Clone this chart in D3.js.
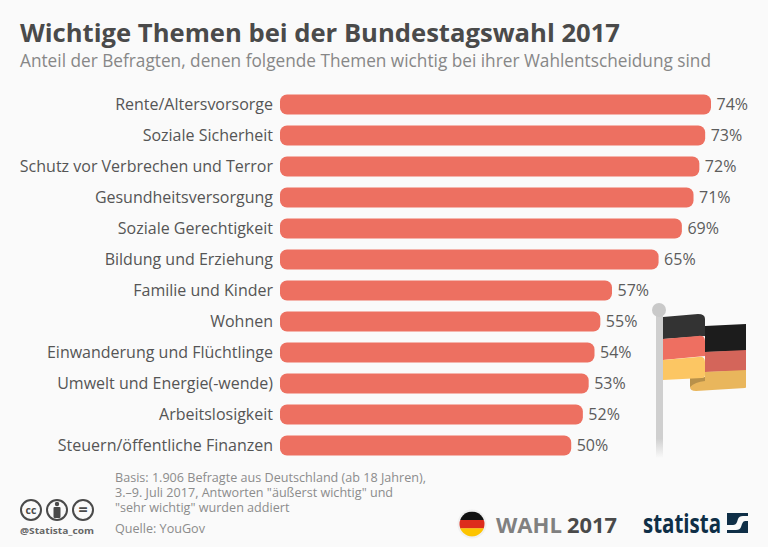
<!DOCTYPE html>
<html lang="de"><head><meta charset="utf-8">
<style>html,body{margin:0;padding:0;background:#fafafa}svg{display:block}text{font-family:"Open Sans",sans-serif}</style>
<script src="https://cdn.jsdelivr.net/npm/d3@7/dist/d3.min.js"></script></head>
<body><svg id="c" width="768" height="547"></svg>
<script>
const categories=["Rente/Altersvorsorge","Soziale Sicherheit","Schutz vor Verbrechen und Terror","Gesundheitsversorgung","Soziale Gerechtigkeit","Bildung und Erziehung","Familie und Kinder","Wohnen","Einwanderung und Flüchtlinge","Umwelt und Energie(-wende)","Arbeitslosigkeit","Steuern/öffentliche Finanzen"];
const values=[74,73,72,71,69,65,57,55,54,53,52,50];
const noteLines=["Basis: 1.906 Befragte aus Deutschland (ab 18 Jahren),","3.–9. Juli 2017, Antworten \"äußerst wichtig\" und","\"sehr wichtig\" wurden addiert"];

const svg=d3.select("#c");
svg.append("rect").attr("width",768).attr("height",547).attr("fill","#fafafa");
const x=d3.scaleLinear().domain([0,74]).range([280,711]);
const y=d3.scaleBand().domain(categories).range([89,461]).paddingInner(0.35).paddingOuter(0.175);
const txt=(tx,ty,s,size,fill,opt={})=>svg.append("text").attr("x",tx).attr("y",ty).text(s)
  .attr("font-size",size).attr("fill",fill).attr("font-weight",opt.w||400).attr("text-anchor",opt.a||"start")
  .attr("font-family",opt.f||null).attr("textLength",opt.l||null).attr("lengthAdjust",opt.l?"spacingAndGlyphs":null);

txt(20,42,"Wichtige Themen bei der Bundestagswahl 2017",25.5,"#4a4a4a",{w:700,l:600});
txt(20,67,"Anteil der Befragten, denen folgende Themen wichtig bei ihrer Wahlentscheidung sind",17.5,"#878787",{l:691});

svg.selectAll("rect.bar").data(categories).join("rect").attr("class","bar")
  .attr("x",x(0)).attr("y",d=>y(d)).attr("height",y.bandwidth())
  .attr("width",(d,i)=>x(values[i])-x(0)).attr("rx",7).attr("fill","#ed7061");
svg.selectAll("text.cat").data(categories).join("text").attr("class","cat")
  .attr("x",273).attr("y",d=>y(d)+y.bandwidth()/2+5).attr("text-anchor","end")
  .attr("font-size",16).attr("fill","#555").text(d=>d);
svg.selectAll("text.val").data(categories).join("text").attr("class","val")
  .attr("x",(d,i)=>x(values[i])+5.5).attr("y",d=>y(d)+y.bandwidth()/2+5.5)
  .attr("font-size",16).attr("fill","#5c5c5c").text((d,i)=>values[i]+"%");

// flag
const defs=svg.append("defs");
const g=defs.append("linearGradient").attr("id","pole").attr("x1",0).attr("x2",0).attr("y1",0).attr("y2",1);
g.append("stop").attr("offset",0.87).attr("stop-color","#cfcfcf");
g.append("stop").attr("offset",1).attr("stop-color","#cfcfcf").attr("stop-opacity",0);
svg.append("rect").attr("x",656).attr("y",308).attr("width",7).attr("height",150).attr("fill","url(#pole)");
svg.append("circle").attr("cx",659).attr("cy",310).attr("r",7).attr("fill","#c9c9c9");
const P=(d,f)=>svg.append("path").attr("d",d).attr("fill",f);
P("M705 326L746 324L746 351L705 352Z","#1c1c1c");
P("M705 352L746 350L746 371L705 372Z","#d4655a");
P("M705 372L746 370L746 387Q746 388 745 388L696 391Q690 391 690 387L690 378L705 378Z","#e9b65c");
P("M690 378L705 377L705 381Q695 382 690 387Z","#b8914a");
P("M663 317L698 314Q705 314 705 319L705 336L663 339Z","#333");
P("M663 339L698 336Q705 335 705 341L705 356L663 360Z","#ee6f61");
P("M663 360L698 357Q705 356 705 362L705 375Q705 378 702 378L663 380Z","#fcc663");

// footer
const note=svg.append("text").attr("font-size",12.6).attr("fill","#8c8c8c");
note.selectAll("tspan").data(noteLines).join("tspan").attr("x",115).attr("y",(d,i)=>482+i*15).text(d=>d);
txt(115,533,"Quelle: YouGov",12.6,"#8c8c8c");
const cc=[[31,"cc"],[57,""],[83,"="]];
cc.forEach(([cx,s])=>{
  svg.append("circle").attr("cx",cx).attr("cy",510).attr("r",10).attr("fill","none").attr("stroke","#4a4a4a").attr("stroke-width",2);
  if(s) txt(cx,s==="="?515:513.5,s,s==="="?16:10.5,"#4a4a4a",{w:700,a:"middle"});
});
svg.append("circle").attr("cx",57).attr("cy",504).attr("r",2.2).attr("fill","#4a4a4a");
svg.append("rect").attr("x",53.5).attr("y",507).attr("width",7).attr("height",11).attr("rx",1).attr("fill","#4a4a4a");
txt(20,534,"@Statista_com",9.5,"#666",{w:700,l:74});

// WAHL badge
const clip=defs.append("clipPath").attr("id","round");
clip.append("circle").attr("cx",472).attr("cy",524).attr("r",12.5);
svg.append("circle").attr("cx",472).attr("cy",524).attr("r",14.5).attr("fill","#f0f0f0");
[["#111",511.5],["#dd2c1c",520],["#fdc400",528.3]].forEach(([f,ty])=>
  svg.append("rect").attr("x",459).attr("y",ty).attr("width",26).attr("height",8.5).attr("fill",f).attr("clip-path","url(#round)"));
txt(496,533,"WAHL",22,"#808080",{w:700,l:66});
txt(567,533,"2017",22,"#4a4a4a",{w:700,l:50});

// statista logo
txt(643,533,"statista",27,"#0f2f47",{w:700,l:78,f:"'Roboto Condensed','Liberation Sans Narrow',Roboto,sans-serif"});
svg.append("rect").attr("x",727).attr("y",513).attr("width",21).attr("height",20).attr("fill","#0f2f47");
svg.append("path").attr("d","M727 525L733 525Q736 525 737 522L738 519Q739 516 743 516L748 516L748 521L745 521Q743 521 742 524L741 527Q740 530 736 530L727 530Z").attr("fill","#fafafa");
</script></body></html>
